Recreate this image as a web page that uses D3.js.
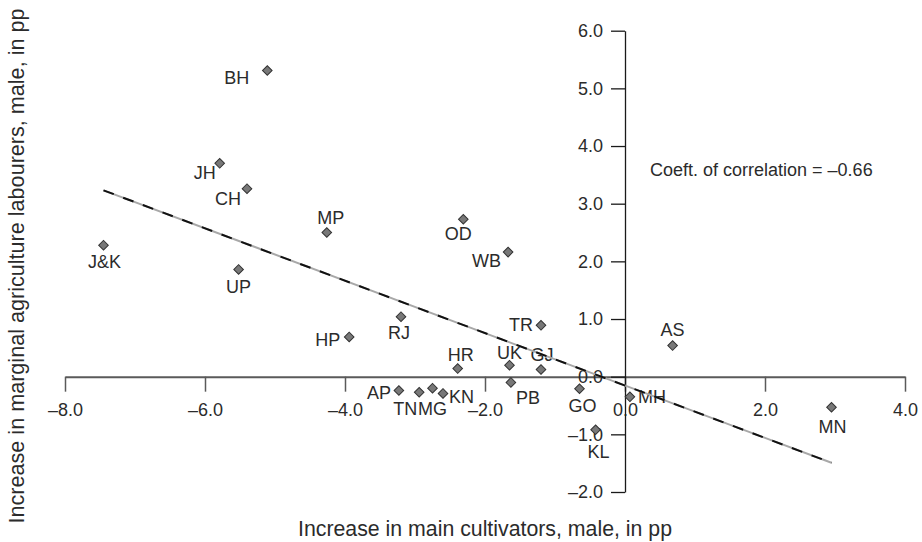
<!DOCTYPE html>
<html>
<head>
<meta charset="utf-8">
<script src="https://cdn.jsdelivr.net/npm/d3@7"></script>
<style>
    body { margin: 0; background: #fff; }
    svg { display: block; font-family: "Liberation Sans", Arial, sans-serif; }
    .axis text { font-size: 18px; fill: #2b2b2b; }
    .lbl { font-size: 18px; fill: #2b2b2b; }
</style>
</head>
<body>
<svg width="922" height="542"></svg>
<script>
// state codes and values (percentage points)
var states = ["BH", "JH", "CH", "J&K", "UP", "MP", "OD", "WB", "RJ", "HP", "TR", "AS",
    "HR", "UK", "GJ", "PB", "AP", "TN", "MG", "KN", "GO", "MH", "KL", "MN"];
var cultivators = [-5.11, -5.79, -5.40, -7.45, -5.52, -4.26, -2.31, -1.67, -3.20, -3.94, -1.20, 0.68,
    -2.39, -1.65, -1.20, -1.63, -3.23, -2.94, -2.75, -2.60, -0.65, 0.07, -0.42, 2.95];
var labourers = [5.31, 3.70, 3.26, 2.28, 1.86, 2.50, 2.73, 2.16, 1.04, 0.69, 0.89, 0.54,
    0.14, 0.20, 0.125, -0.10, -0.24, -0.27, -0.20, -0.29, -0.21, -0.35, -0.92, -0.53];
var xTicks = [-8, -6, -4, -2, 0, 2, 4];
var yTicks = [-2, -1, 0, 1, 2, 3, 4, 5, 6];
var correlationText = "Coeft. of correlation = \u20130.66";

// label nudges: [anchor, dx, dy]
var labelNudge = [["end", -18, 7], ["end", -4, 9], ["end", -6, 10], ["middle", 1, 16], ["middle", 0, 17],
    ["middle", 4, -15], ["middle", -5, 14], ["end", -7, 8], ["middle", -2, 16], ["end", -9, 3],
    ["end", -8, -1], ["middle", 0, -16], ["middle", 3, -14], ["middle", 0, -13], ["middle", 1, -15],
    ["start", 5, 15], ["end", -8, 2], ["end", -2, 16], ["middle", 0, 20], ["start", 6, 3],
    ["middle", 3, 17], ["start", 8, 0], ["middle", 3, 22], ["middle", 1, 19]];

var fmt = function (d) { return d3.format(".1f")(d).replace("\u2212", "\u2013").replace("-", "\u2013"); };

var svg = d3.select("svg");

var x = d3.scaleLinear().domain([-8, 4]).range([65, 905]);
var y = d3.scaleLinear().domain([-2, 6]).range([492, 30.7]);

var data = states.map(function (s, i) {
    return {name: s, x: cultivators[i], y: labourers[i], nudge: labelNudge[i]};
});

// x axis through y = 0
var gx = svg.append("g")
    .attr("class", "axis")
    .attr("transform", "translate(0," + y(0) + ")")
    .call(d3.axisBottom(x).tickValues(xTicks).tickFormat(fmt).tickSize(15).tickSizeOuter(0).tickPadding(12));
gx.select(".domain").attr("stroke", "#5a5a5a").attr("stroke-width", 2);
gx.selectAll(".tick line").attr("stroke", "#5a5a5a").attr("stroke-width", 1.5);

// y axis through x = 0
var gy = svg.append("g")
    .attr("class", "axis")
    .attr("transform", "translate(" + x(0) + ",0)")
    .call(d3.axisLeft(y).tickValues(yTicks).tickFormat(fmt).tickSize(14).tickSizeOuter(0).tickPadding(8));
gy.select(".domain").attr("stroke", "#1a1a1a").attr("stroke-width", 1.3);
gy.selectAll(".tick line").attr("stroke", "#1a1a1a").attr("stroke-width", 1.3);
svg.selectAll(".axis").attr("font-size", null).attr("font-family", null);

// points
var diamond = d3.symbol().type(d3.symbolSquare).size(46);
svg.append("g").selectAll("path")
    .data(data)
    .enter().append("path")
    .attr("d", diamond)
    .attr("transform", function (d) { return "translate(" + x(d.x) + "," + y(d.y) + ") rotate(45)"; })
    .attr("fill", "#787878")
    .attr("stroke", "#333")
    .attr("stroke-width", 1);

svg.append("g").selectAll("text")
    .data(data)
    .enter().append("text")
    .attr("class", "lbl")
    .attr("x", function (d) { return x(d.x) + d.nudge[1]; })
    .attr("y", function (d) { return y(d.y) + d.nudge[2]; })
    .attr("dy", "0.36em")
    .attr("text-anchor", function (d) { return d.nudge[0]; })
    .text(function (d) { return d.name; });

// least squares fit
var mx = d3.mean(cultivators), my = d3.mean(labourers);
var sxy = d3.sum(data, function (d) { return (d.x - mx) * (d.y - my); });
var sxx = d3.sum(data, function (d) { return (d.x - mx) * (d.x - mx); });
var slope = sxy / sxx, icpt = my - slope * mx;
var ends = d3.extent(cultivators).map(function (v) { return [v, icpt + slope * v]; });
var line = d3.line().x(function (d) { return x(d[0]); }).y(function (d) { return y(d[1]); });

svg.append("path").attr("d", line(ends))
    .attr("fill", "none").attr("stroke", "#a8a8a8").attr("stroke-width", 2);
svg.append("path").attr("d", line(ends))
    .attr("fill", "none").attr("stroke", "#111").attr("stroke-width", 2)
    .attr("stroke-dasharray", "11,10");

svg.append("text")
    .attr("class", "lbl")
    .attr("x", x(0) + 25)
    .attr("y", y(3.6))
    .attr("dy", "0.36em")
    .text(correlationText);

// axis titles
svg.append("text")
    .attr("x", 485)
    .attr("y", 528)
    .attr("dy", "0.36em")
    .attr("text-anchor", "middle")
    .attr("font-size", "21.3px")
    .attr("fill", "#2b2b2b")
    .text("Increase in main cultivators, male, in pp");

svg.append("text")
    .attr("transform", "translate(16,266) rotate(-90)")
    .attr("dy", "0.36em")
    .attr("text-anchor", "middle")
    .attr("font-size", "21.6px")
    .attr("fill", "#2b2b2b")
    .text("Increase in marginal agriculture labourers, male, in pp");
</script>
</body>
</html>
